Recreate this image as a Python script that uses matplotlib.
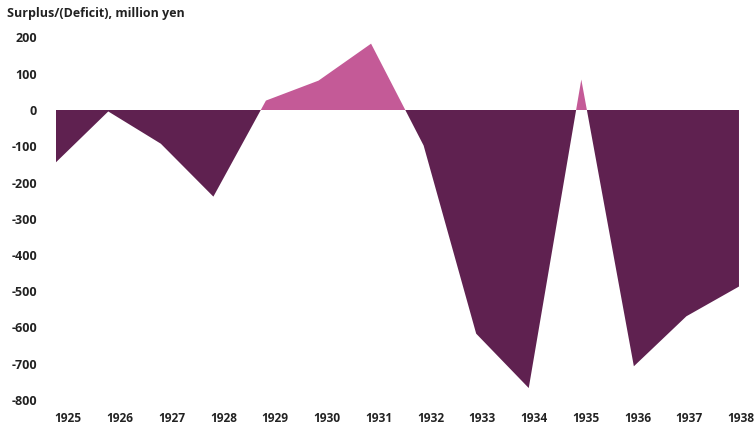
import numpy as np
import matplotlib
matplotlib.use('Agg')
import matplotlib.pyplot as plt

plt.rcParams.update({
    'font.family': ['Open Sans', 'DejaVu Sans'],
    'font.weight': 'bold',
    'font.size': 9,
})

# ── Data ──
years = ['1925', '1926', '1927', '1928', '1929', '1930', '1931',
         '1932', '1933', '1934', '1935', '1936', '1937', '1938']
balance = [-145, -4, -93, -239, 26, 81, 183,
           -98, -617, -767, 84, -707, -569, -487]
yticks = [200, 100, 0, -100, -200, -300, -400, -500, -600, -700, -800]

DARK = '#5f2150'
PINK = '#c45a97'

fig = plt.figure(figsize=(7.55, 4.25), dpi=100)
ax = fig.add_axes([55.7 / 755, 25 / 425, 13.1 * 52.56 / 755, 362.5 / 425])

x = np.arange(len(years))
y = np.array(balance, dtype=float)
ax.fill_between(x, y, 0, where=y >= 0, interpolate=True, color=PINK, linewidth=0)
ax.fill_between(x, y, 0, where=y <= 0, interpolate=True, color=DARK, linewidth=0)

ax.set_xlim(0, 13.1)
ax.set_ylim(-800, 200)
ax.set_yticks(yticks)
ax.set_yticklabels([str(v) for v in yticks])

# year labels sit slightly right of the data points
ax.set_xticks(0.24 + 0.9845 * x)
ax.set_xticklabels(years)

ax.tick_params(axis='both', length=0, labelsize=9, colors='#222222')
ax.tick_params(axis='x', labelsize=8.6, pad=9)
ax.tick_params(axis='y', pad=13.5)
for s in ax.spines.values():
    s.set_visible(False)

fig.text(7 / 755, 1 - 14 / 425, 'Surplus/(Deficit), million yen', ha='left', va='center',
         fontsize=9, fontweight='bold', color='#222222')

fig.savefig('out.png', dpi=100)
